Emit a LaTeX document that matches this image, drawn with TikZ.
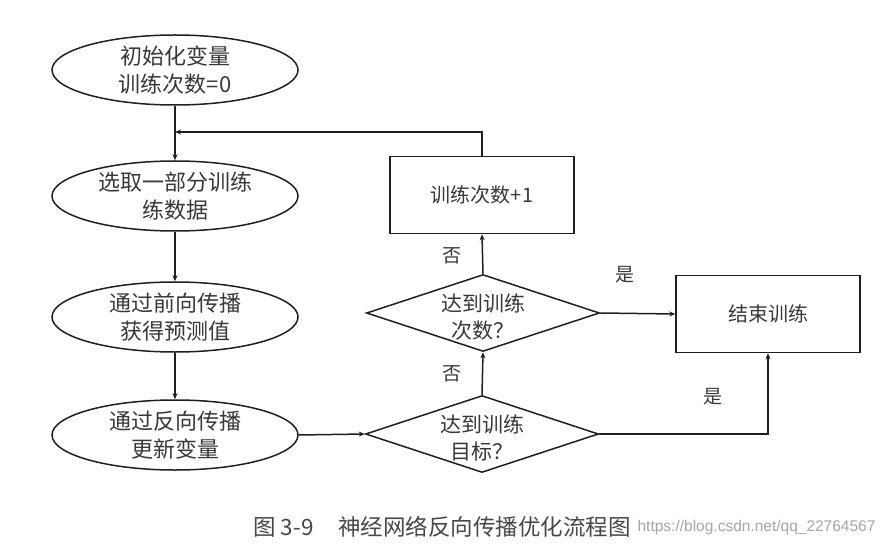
\documentclass[tikz,border=0pt]{standalone}
\usepackage{fontspec}
\setmainfont{Liberation Sans}
\newfontfamily\cjk{Noto Sans CJK SC}
\usetikzlibrary{shapes.geometric,arrows.meta}
\begin{document}
\begin{tikzpicture}[x=1pt,y=-1pt,
  txt/.style={text=black!78, font=\cjk\fontsize{22}{28}\selectfont, align=center},
  oval/.style={ellipse, draw=black!88, line width=1.5pt, minimum width=246pt, minimum height=70pt, inner sep=0pt, txt},
  procbox/.style={rectangle, draw=black!88, line width=1.5pt, minimum width=184pt, minimum height=77pt, inner sep=0pt, txt, font=\cjk\fontsize{20}{26}\selectfont},
  dia/.style={diamond, draw=black!88, line width=1.5pt, minimum width=233pt, minimum height=77pt, inner sep=0pt},
  diatxt/.style={txt, font=\cjk\fontsize{21}{27}\selectfont},
  conn/.style={draw=black!88, line width=1.5pt, -{Stealth[length=6pt,width=5pt]}},
  lbl/.style={text=black!78, font=\cjk\fontsize{19}{22}\selectfont}
]
\useasboundingbox (0,0) rectangle (885,553);
\fill[white] (0,0) rectangle (885,553);

\node[oval] (e1) at (175,70) {初始化变量\\训练次数=0};
\node[oval] (e2) at (175,196) {选取一部分训练\\练数据};
\node[oval] (e3) at (175,317) {通过前向传播\\获得预测值};
\node[oval] (e4) at (175,435) {通过反向传播\\更新变量};

\node[procbox] (b1) at (482,195) {训练次数+1};
\node[procbox] (b2) at (768,314) {结束训练};

\node[dia] (d1) at (483,313) {};
\node[diatxt] (t1) at (483,317) {达到训练\\次数？};
\node[dia] (d2) at (482,434) {};
\node[diatxt] (t2) at (482,438) {达到训练\\目标？};

\coordinate (j) at (175,132);

\draw[conn] (e1) -- (e2);
\draw[conn] (e2) -- (e3);
\draw[conn] (e3) -- (e4);
\draw[conn] (b1.north) |- (j);
\draw[conn] (e4.east) -- (d2.west);
\draw[conn] (d2.north) -- (d1.south);
\draw[conn] (d1.north) -- (b1.south);
\draw[conn] (d1.east) -- (b2.west);
\draw[conn] (d2.east) -| (b2.south);

\node[lbl] (n1) at (452,256) {否};
\node[lbl] (n2) at (452,374) {否};
\node[lbl] (y1) at (625,275) {是};
\node[lbl] (y2) at (713,397) {是};

\node[anchor=east, text=black!35, font=\fontsize{15.5}{18}\selectfont] (wm) at (879,527) {https://blog.csdn.net/qq\_22764567};
\node[anchor=west, text=black!72, font=\cjk\fontsize{22.5}{26}\selectfont, fill=white, inner xsep=1pt] (cap) at (252,527) {图 3-9\hspace{1.1em}神经网络反向传播优化流程图};
\end{tikzpicture}
\end{document}
